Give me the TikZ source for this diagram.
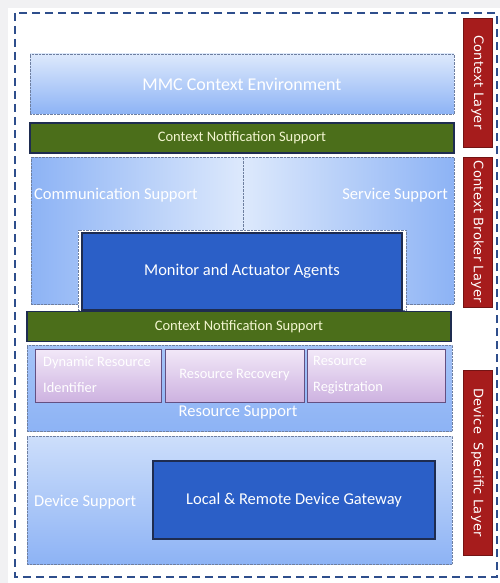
\documentclass[tikz,border=0pt]{standalone}
\usepackage{fontspec}
\setmainfont{Carlito}
\newfontfamily\layerfont[LetterSpace=2]{DejaVu Sans}
\usepackage{tikz}
\definecolor{frameblue}{RGB}{46,78,140}
\definecolor{paleblue}{RGB}{221,233,252}
\definecolor{midblue}{RGB}{141,179,245}
\definecolor{agentblue}{RGB}{43,95,199}
\definecolor{navy}{RGB}{30,44,80}
\definecolor{olive}{RGB}{75,110,26}
\definecolor{notetext}{RGB}{242,245,208}
\definecolor{lavtop}{RGB}{242,232,248}
\definecolor{lavbot}{RGB}{205,178,224}
\definecolor{lavedge}{RGB}{100,80,130}
\definecolor{layerred}{RGB}{166,28,28}
\definecolor{dotedge}{RGB}{110,127,160}

\newcommand{\bigtxt}{\fontsize{16.5}{20}\selectfont}
\newcommand{\smalltxt}{\fontsize{14.4}{26}\selectfont}

\begin{document}
\begin{tikzpicture}[x=1pt, y=-1pt,
         % boxes
         soft/.style={rectangle, inner sep=0pt, outer sep=0pt,
            draw=dotedge, densely dotted, thin},
         note/.style={rectangle, inner sep=0pt, outer sep=0pt,
            fill=olive, draw=navy, line width=1.6pt,
            minimum width=424, minimum height=30,
            text=notetext, font=\fontsize{14.5}{17}\selectfont},
         agent/.style={rectangle, inner sep=0pt, outer sep=0pt,
            fill=agentblue, draw=navy, line width=1.2pt,
            text=white, font=\bigtxt},
         part/.style={rectangle, inner sep=0pt, outer sep=0pt,
            top color=lavtop, bottom color=lavbot, draw=lavedge, thick,
            minimum height=53},
         layer/.style={rectangle, rotate=-90, inner sep=0pt, outer sep=0pt,
            fill=layerred, draw=layerred!70!black, thick,
            minimum height=29, text=white,
            font=\layerfont\fontsize{13}{16}\selectfont},
         lbl/.style={inner sep=0pt, text=white, font=\bigtxt}]
   \useasboundingbox (0,0) rectangle (500,583);
   \fill [blue!6!gray!10] (0,0) rectangle (500,583);
   \fill [white] (8,8) rectangle (500,583);
   \draw [frameblue, line width=2.4pt, dash pattern=on 8pt off 5pt] (15,13) rectangle (497,577);

   % context layer
   \node [soft, top color=paleblue, bottom color=midblue, minimum width=424, minimum height=60,
      text=white, font=\fontsize{18}{22}\selectfont] (env) at (242,84) {MMC Context Environment};
   \node [note] (notifA) at (242,138) {Context Notification Support};

   % context broker layer
   \node [soft, left color=midblue, right color=paleblue, minimum width=212, minimum height=147] (comm) at (137,230.5) {};
   \node [soft, left color=paleblue, right color=midblue, minimum width=211, minimum height=147] (serv) at (348.5,230.5) {};
   \node [lbl, anchor=west] (commtxt) at (34,195) {Communication Support};
   \node [lbl, anchor=east] (servtxt) at (448,195) {Service Support};
   \node [soft, fill=white, minimum width=328, minimum height=80] (notch) at (242,270) {};
   \node [agent, minimum width=320, minimum height=77] (agents) at (242,271.5) {Monitor and Actuator Agents};
   \node [note] (notifB) at (239,326.5) {Context Notification Support};

   % device specific layer
   \node [soft, top color=midblue!70!paleblue, bottom color=midblue, minimum width=425, minimum height=86] (ressup) at (239.5,388) {};
   \node [part, minimum width=126] (dyn) at (98,375.5) {};
   \node [part, minimum width=139] (recov) at (234.5,375.5) {};
   \node [part, minimum width=138] (regis) at (376,375.5) {};
   \node [lbl, anchor=north west, align=left, font=\smalltxt] (dyntxt) at (43,356) {Dynamic Resource\\Identifier};
   \node [lbl, font=\smalltxt] (recovtxt) at (recov) {Resource Recovery};
   \node [lbl, anchor=north west, align=left, font=\smalltxt] (registxt) at (313,356) {Resource\\Registration};
   \node [lbl] (restxt) at (238,412) {Resource Support};
   \node [soft, top color=paleblue!80!midblue, bottom color=midblue, minimum width=425, minimum height=128] (devsup) at (239.5,500) {};
   \node [lbl, anchor=west] (devtxt) at (34,502) {Device Support};
   \node [agent, minimum width=282, minimum height=78] (gateway) at (294,500) {Local \& Remote Device Gateway};

   % layer tags
   \node [layer, minimum width=129] (ctxlayer) at (477.5,82.5) {Context Layer};
   \node [layer, minimum width=150] (brklayer) at (477.5,232) {Context Broker Layer};
   \node [layer, minimum width=185] (devlayer) at (477.5,462.5) {Device\ \ Specific Layer};
\end{tikzpicture}
\end{document}
